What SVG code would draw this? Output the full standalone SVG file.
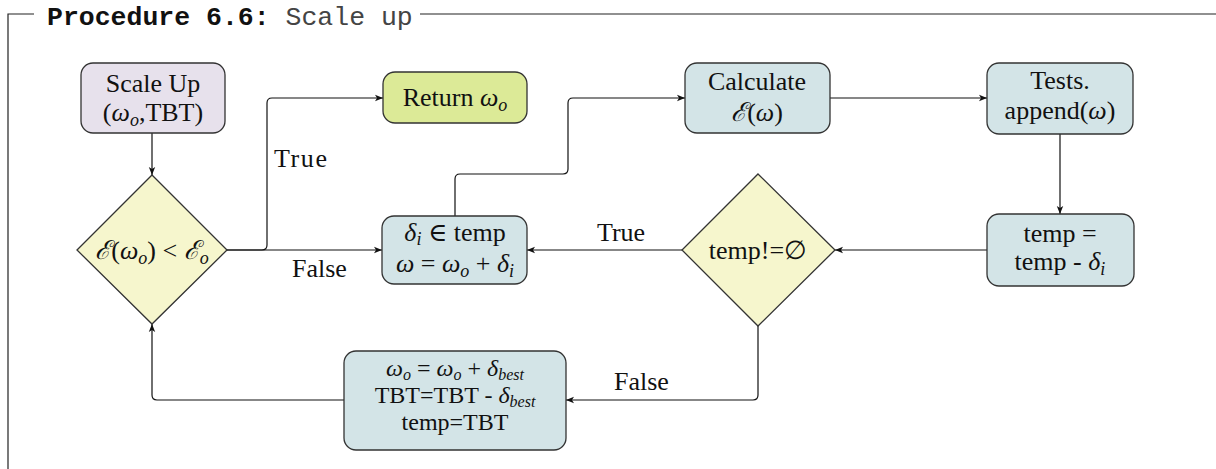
<svg xmlns="http://www.w3.org/2000/svg" width="1216" height="469" viewBox="0 0 1216 469">
<style>
.frame{fill:none;stroke:#222;stroke-width:1.2}
.box{stroke:#333;stroke-width:1.3}
.purple{fill:#E7E1EC}
.green{fill:#DCEA97}
.blue{fill:#D3E4E7}
.yellow{fill:#F6F6CD}
.t{font-family:"Liberation Serif","DejaVu Serif",serif;font-size:26px;fill:#111;text-anchor:middle}
.t2{font-family:"Liberation Serif","DejaVu Serif",serif;font-size:24px;fill:#111;text-anchor:middle}
.lbl{font-family:"Liberation Serif","DejaVu Serif",serif;font-size:26px;fill:#111}
.i{font-style:italic}
.s{font-size:18px;font-style:italic}
.s2{font-size:16px;font-style:italic}
.c{fill:none;stroke:#111;stroke-width:1.2}
</style>
<defs>
<marker id="ah" markerUnits="userSpaceOnUse" markerWidth="9" markerHeight="8" refX="8" refY="4" orient="auto">
<path d="M0,0.8 L8,4 L0,7.2 L2,4 z" fill="#111"/>
</marker>
</defs>

<g id="frame">
<path class="frame" d="M8,469 V14 H34 M420,14 H1216"/>
<text x="47" y="25" font-family="Liberation Mono,monospace" font-size="26.5px"><tspan font-weight="bold" fill="#111">Procedure 6.6:</tspan><tspan fill="#444"> Scale up</tspan></text>
</g>

<g id="connectors">
<path class="c" marker-end="url(#ah)" d="M152,133 V175"/>
<path class="c" marker-end="url(#ah)" d="M227,250 H262 Q267,250 267,245 V103 Q267,98 272,98 H383"/>
<path class="c" marker-end="url(#ah)" d="M227,250 H382"/>
<path class="c" marker-end="url(#ah)" d="M455,216 V179 Q455,174 460,174 H563 Q568,174 568,169 V103 Q568,98 573,98 H685"/>
<path class="c" marker-end="url(#ah)" d="M830,98 H987"/>
<path class="c" marker-end="url(#ah)" d="M1060,134 V214"/>
<path class="c" marker-end="url(#ah)" d="M987,250 H835"/>
<path class="c" marker-end="url(#ah)" d="M682,250 H527"/>
<path class="c" marker-end="url(#ah)" d="M758,326 V395 Q758,400 753,400 H566"/>
<path class="c" marker-end="url(#ah)" d="M344,400 H157 Q152,400 152,395 V324"/>
<text class="lbl" x="274" y="167" textLength="53">True</text>
<text class="lbl" x="292" y="277">False</text>
<text class="lbl" x="597" y="241" textLength="48">True</text>
<text class="lbl" x="614" y="390">False</text>
</g>

<g id="scaleup">
<rect class="box purple" x="81" y="63" width="144" height="70" rx="12"/>
<text class="t" x="153" y="92">Scale Up</text>
<text class="t" x="153" y="121">(<tspan class="i">ω</tspan><tspan class="s" dy="5">o</tspan><tspan dy="-5">,TBT)</tspan></text>
</g>

<g id="return">
<rect class="box green" x="383" y="72" width="144" height="51" rx="12"/>
<text class="t" x="455" y="106">Return <tspan class="i">ω</tspan><tspan class="s" dy="5">o</tspan></text>
</g>

<g id="calculate">
<rect class="box blue" x="685" y="63" width="145" height="70" rx="12"/>
<text class="t" x="757" y="90">Calculate</text>
<text class="t" x="757" y="121"><tspan class="i">ℰ</tspan>(<tspan class="i">ω</tspan>)</text>
</g>

<g id="tests">
<rect class="box blue" x="987" y="63" width="146" height="71" rx="12"/>
<text class="t" x="1060" y="89">Tests.</text>
<text class="t" x="1060" y="119">append(<tspan class="i">ω</tspan>)</text>
</g>

<g id="tempupdate">
<rect class="box blue" x="987" y="214" width="147" height="72" rx="12"/>
<text class="t" x="1060" y="242">temp =</text>
<text class="t" x="1060" y="270">temp - <tspan class="i">δ</tspan><tspan class="s" dy="5">i</tspan></text>
</g>

<g id="check">
<polygon class="box yellow" points="758,174 835,250 758,326 682,250"/>
<text class="t" x="758" y="259">temp!=∅</text>
</g>

<g id="delta">
<rect class="box blue" x="382" y="216" width="145" height="68" rx="12"/>
<text class="t" x="455" y="241"><tspan class="i">δ</tspan><tspan class="s" dy="4">i</tspan><tspan dy="-4"> ∈ temp</tspan></text>
<text class="t" x="455" y="272"><tspan class="i">ω</tspan> = <tspan class="i">ω</tspan><tspan class="s" dy="5">o</tspan><tspan dy="-5"> + </tspan><tspan class="i">δ</tspan><tspan class="s" dy="5">i</tspan></text>
</g>

<g id="cond">
<polygon class="box yellow" points="152,175 227,250 152,324 77,250"/>
<text class="t" x="152" y="259"><tspan class="i">ℰ</tspan>(<tspan class="i">ω</tspan><tspan class="s" dy="5">o</tspan><tspan dy="-5">) &lt; </tspan><tspan class="i">ℰ</tspan><tspan class="s" dy="5">o</tspan></text>
</g>

<g id="best">
<rect class="box blue" x="344" y="351" width="222" height="99" rx="12"/>
<text class="t2" x="455" y="376"><tspan class="i">ω</tspan><tspan class="s2" dy="4">o</tspan><tspan dy="-4"> = </tspan><tspan class="i">ω</tspan><tspan class="s2" dy="4">o</tspan><tspan dy="-4"> + </tspan><tspan class="i">δ</tspan><tspan class="s2" dy="4">best</tspan></text>
<text class="t2" x="455" y="403">TBT=TBT - <tspan class="i">δ</tspan><tspan class="s2" dy="4">best</tspan></text>
<text class="t2" x="455" y="430">temp=TBT</text>
</g>
</svg>
